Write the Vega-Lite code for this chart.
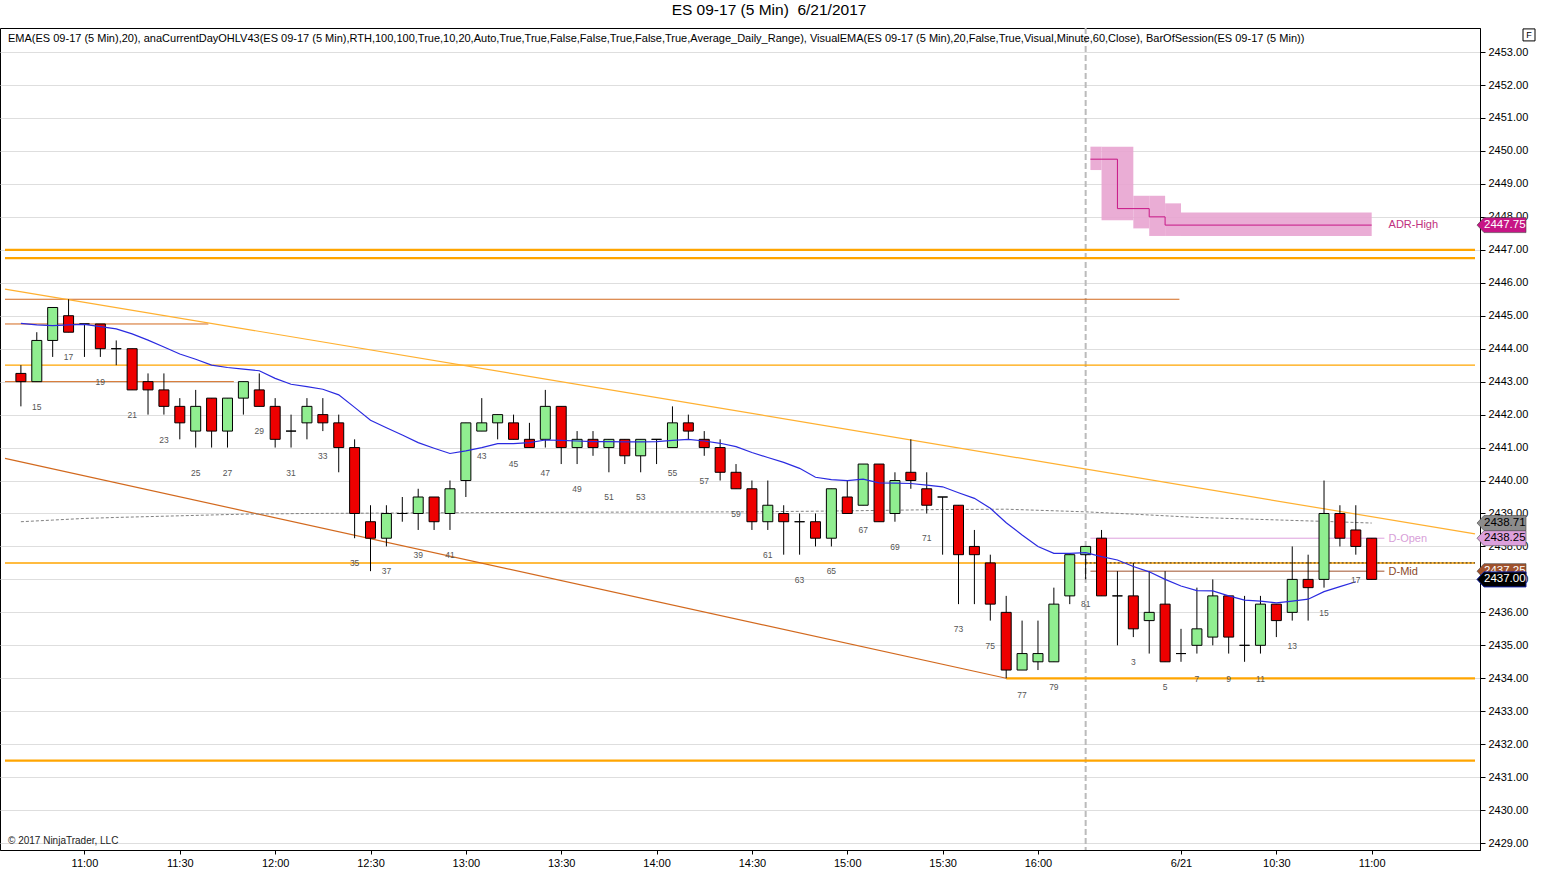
{
  "$schema": "https://vega.github.io/schema/vega-lite/v6.json",
  "width": 1480,
  "height": 822,
  "autosize": "none",
  "padding": {"left": 0, "top": 28, "right": 62, "bottom": 43},
  "background": "white",
  "title": {"text": "ES 09-17 (5 Min)\u00a0\u00a06/21/2017", "fontSize": 15.5, "fontWeight": "normal", "font": "Liberation Sans", "color": "black", "anchor": "middle", "dx": 29, "offset": 8},
  "config": {"view": {"stroke": "black", "strokeWidth": 1}, "axisY": {"tickCount": 25, "labelOverlap": false}},
  "datasets": {
    "one": [{}],
    "bars": [
      {"g":14,"n":14,"open":2443.25,"high":2443.5,"low":2442.25,"close":2443.0},
      {"g":15,"n":15,"open":2443.0,"high":2444.5,"low":2443.0,"close":2444.25},
      {"g":16,"n":16,"open":2444.25,"high":2445.25,"low":2443.75,"close":2445.25},
      {"g":17,"n":17,"open":2445.0,"high":2445.5,"low":2444.5,"close":2444.5},
      {"g":18,"n":18,"open":2444.75,"high":2444.75,"low":2443.75,"close":2444.75},
      {"g":19,"n":19,"open":2444.75,"high":2444.75,"low":2443.75,"close":2444.0},
      {"g":20,"n":20,"open":2444.0,"high":2444.25,"low":2443.5,"close":2444.0},
      {"g":21,"n":21,"open":2444.0,"high":2444.0,"low":2442.75,"close":2442.75},
      {"g":22,"n":22,"open":2443.0,"high":2443.25,"low":2442.0,"close":2442.75},
      {"g":23,"n":23,"open":2442.75,"high":2443.25,"low":2442.0,"close":2442.25},
      {"g":24,"n":24,"open":2442.25,"high":2442.5,"low":2441.25,"close":2441.75},
      {"g":25,"n":25,"open":2441.5,"high":2442.75,"low":2441.0,"close":2442.25},
      {"g":26,"n":26,"open":2442.5,"high":2442.5,"low":2441.0,"close":2441.5},
      {"g":27,"n":27,"open":2441.5,"high":2442.5,"low":2441.0,"close":2442.5},
      {"g":28,"n":28,"open":2442.5,"high":2443.0,"low":2442.0,"close":2443.0},
      {"g":29,"n":29,"open":2442.75,"high":2443.25,"low":2442.25,"close":2442.25},
      {"g":30,"n":30,"open":2442.25,"high":2442.5,"low":2441.0,"close":2441.25},
      {"g":31,"n":31,"open":2441.5,"high":2442.0,"low":2441.0,"close":2441.5},
      {"g":32,"n":32,"open":2441.75,"high":2442.5,"low":2441.25,"close":2442.25},
      {"g":33,"n":33,"open":2442.0,"high":2442.5,"low":2441.5,"close":2441.75},
      {"g":34,"n":34,"open":2441.75,"high":2442.0,"low":2440.25,"close":2441.0},
      {"g":35,"n":35,"open":2441.0,"high":2441.25,"low":2438.25,"close":2439.0},
      {"g":36,"n":36,"open":2438.75,"high":2439.25,"low":2437.25,"close":2438.25},
      {"g":37,"n":37,"open":2438.25,"high":2439.25,"low":2438.0,"close":2439.0},
      {"g":38,"n":38,"open":2439.0,"high":2439.5,"low":2438.75,"close":2439.0},
      {"g":39,"n":39,"open":2439.0,"high":2439.75,"low":2438.5,"close":2439.5},
      {"g":40,"n":40,"open":2439.5,"high":2439.5,"low":2438.5,"close":2438.75},
      {"g":41,"n":41,"open":2439.0,"high":2440.0,"low":2438.5,"close":2439.75},
      {"g":42,"n":42,"open":2440.0,"high":2441.75,"low":2439.5,"close":2441.75},
      {"g":43,"n":43,"open":2441.5,"high":2442.5,"low":2441.5,"close":2441.75},
      {"g":44,"n":44,"open":2441.75,"high":2442.0,"low":2441.25,"close":2442.0},
      {"g":45,"n":45,"open":2441.75,"high":2442.0,"low":2441.25,"close":2441.25},
      {"g":46,"n":46,"open":2441.25,"high":2441.75,"low":2441.0,"close":2441.0},
      {"g":47,"n":47,"open":2441.25,"high":2442.75,"low":2441.0,"close":2442.25},
      {"g":48,"n":48,"open":2442.25,"high":2442.25,"low":2440.5,"close":2441.0},
      {"g":49,"n":49,"open":2441.0,"high":2441.5,"low":2440.5,"close":2441.25},
      {"g":50,"n":50,"open":2441.25,"high":2441.5,"low":2440.75,"close":2441.0},
      {"g":51,"n":51,"open":2441.0,"high":2441.25,"low":2440.25,"close":2441.25},
      {"g":52,"n":52,"open":2441.25,"high":2441.25,"low":2440.5,"close":2440.75},
      {"g":53,"n":53,"open":2440.75,"high":2441.25,"low":2440.25,"close":2441.25},
      {"g":54,"n":54,"open":2441.25,"high":2441.25,"low":2440.5,"close":2441.25},
      {"g":55,"n":55,"open":2441.0,"high":2442.25,"low":2441.0,"close":2441.75},
      {"g":56,"n":56,"open":2441.75,"high":2442.0,"low":2441.25,"close":2441.5},
      {"g":57,"n":57,"open":2441.25,"high":2441.5,"low":2440.75,"close":2441.0},
      {"g":58,"n":58,"open":2441.0,"high":2441.25,"low":2440.0,"close":2440.25},
      {"g":59,"n":59,"open":2440.25,"high":2440.5,"low":2439.75,"close":2439.75},
      {"g":60,"n":60,"open":2439.75,"high":2440.0,"low":2438.5,"close":2438.75},
      {"g":61,"n":61,"open":2438.75,"high":2440.0,"low":2438.5,"close":2439.25},
      {"g":62,"n":62,"open":2439.0,"high":2439.25,"low":2437.75,"close":2438.75},
      {"g":63,"n":63,"open":2438.75,"high":2439.0,"low":2437.75,"close":2438.75},
      {"g":64,"n":64,"open":2438.75,"high":2439.0,"low":2438.0,"close":2438.25},
      {"g":65,"n":65,"open":2438.25,"high":2439.75,"low":2438.0,"close":2439.75},
      {"g":66,"n":66,"open":2439.5,"high":2440.0,"low":2439.0,"close":2439.0},
      {"g":67,"n":67,"open":2439.25,"high":2440.5,"low":2439.25,"close":2440.5},
      {"g":68,"n":68,"open":2440.5,"high":2440.5,"low":2438.75,"close":2438.75},
      {"g":69,"n":69,"open":2439.0,"high":2440.25,"low":2438.75,"close":2440.0},
      {"g":70,"n":70,"open":2440.25,"high":2441.25,"low":2439.75,"close":2440.0},
      {"g":71,"n":71,"open":2439.75,"high":2440.25,"low":2439.0,"close":2439.25},
      {"g":72,"n":72,"open":2439.5,"high":2439.5,"low":2437.75,"close":2439.5},
      {"g":73,"n":73,"open":2439.25,"high":2439.25,"low":2436.25,"close":2437.75},
      {"g":74,"n":74,"open":2438.0,"high":2438.5,"low":2436.25,"close":2437.75},
      {"g":75,"n":75,"open":2437.5,"high":2437.75,"low":2435.75,"close":2436.25},
      {"g":76,"n":76,"open":2436.0,"high":2436.5,"low":2434.0,"close":2434.25},
      {"g":77,"n":77,"open":2434.25,"high":2435.75,"low":2434.25,"close":2434.75},
      {"g":78,"n":78,"open":2434.5,"high":2435.75,"low":2434.25,"close":2434.75},
      {"g":79,"n":79,"open":2434.5,"high":2436.75,"low":2434.5,"close":2436.25},
      {"g":80,"n":80,"open":2436.5,"high":2437.75,"low":2436.25,"close":2437.75},
      {"g":81,"n":81,"open":2437.75,"high":2438.0,"low":2437.0,"close":2438.0},
      {"g":82,"n":1,"open":2438.25,"high":2438.5,"low":2436.5,"close":2436.5},
      {"g":83,"n":2,"open":2436.5,"high":2437.25,"low":2435.0,"close":2436.5},
      {"g":84,"n":3,"open":2436.5,"high":2437.5,"low":2435.25,"close":2435.5},
      {"g":85,"n":4,"open":2435.75,"high":2437.25,"low":2434.75,"close":2436.0},
      {"g":86,"n":5,"open":2436.25,"high":2437.25,"low":2434.5,"close":2434.5},
      {"g":87,"n":6,"open":2434.75,"high":2435.5,"low":2434.5,"close":2434.75},
      {"g":88,"n":7,"open":2435.0,"high":2436.75,"low":2434.75,"close":2435.5},
      {"g":89,"n":8,"open":2435.25,"high":2437.0,"low":2435.0,"close":2436.5},
      {"g":90,"n":9,"open":2436.5,"high":2436.5,"low":2434.75,"close":2435.25},
      {"g":91,"n":10,"open":2435.0,"high":2436.5,"low":2434.5,"close":2435.0},
      {"g":92,"n":11,"open":2435.0,"high":2436.5,"low":2434.75,"close":2436.25},
      {"g":93,"n":12,"open":2436.25,"high":2436.25,"low":2435.25,"close":2435.75},
      {"g":94,"n":13,"open":2436.0,"high":2438.0,"low":2435.75,"close":2437.0},
      {"g":95,"n":14,"open":2437.0,"high":2437.75,"low":2435.75,"close":2436.75},
      {"g":96,"n":15,"open":2437.0,"high":2440.0,"low":2436.75,"close":2439.0},
      {"g":97,"n":16,"open":2439.0,"high":2439.25,"low":2438.0,"close":2438.25},
      {"g":98,"n":17,"open":2438.5,"high":2439.25,"low":2437.75,"close":2438.0},
      {"g":99,"n":18,"open":2438.25,"high":2438.25,"low":2437.0,"close":2437.0}
    ],
    "ema": [
      {"g":14,"v":2444.77},{"g":15,"v":2444.72},{"g":16,"v":2444.70},{"g":17,"v":2444.72},{"g":18,"v":2444.74},
      {"g":19,"v":2444.67},{"g":20,"v":2444.60},{"g":21,"v":2444.45},{"g":22,"v":2444.26},{"g":23,"v":2444.05},
      {"g":24,"v":2443.84},{"g":25,"v":2443.68},{"g":26,"v":2443.50},{"g":27,"v":2443.43},{"g":28,"v":2443.38},
      {"g":29,"v":2443.33},{"g":30,"v":2443.10},{"g":31,"v":2442.92},{"g":32,"v":2442.85},{"g":33,"v":2442.77},
      {"g":34,"v":2442.60},{"g":35,"v":2442.22},{"g":36,"v":2441.83},{"g":37,"v":2441.60},{"g":38,"v":2441.38},
      {"g":39,"v":2441.15},{"g":40,"v":2440.98},{"g":41,"v":2440.82},{"g":42,"v":2440.90},{"g":43,"v":2441.00},
      {"g":44,"v":2441.12},{"g":45,"v":2441.12},{"g":46,"v":2441.15},{"g":47,"v":2441.23},{"g":48,"v":2441.22},
      {"g":49,"v":2441.20},{"g":50,"v":2441.18},{"g":51,"v":2441.18},{"g":52,"v":2441.17},{"g":53,"v":2441.17},
      {"g":54,"v":2441.18},{"g":55,"v":2441.22},{"g":56,"v":2441.25},{"g":57,"v":2441.20},{"g":58,"v":2441.13},
      {"g":59,"v":2441.03},{"g":60,"v":2440.85},{"g":61,"v":2440.70},{"g":62,"v":2440.55},{"g":63,"v":2440.37},
      {"g":64,"v":2440.10},{"g":65,"v":2440.03},{"g":66,"v":2440.00},{"g":67,"v":2440.04},{"g":68,"v":2439.93},
      {"g":69,"v":2439.92},{"g":70,"v":2439.91},{"g":71,"v":2439.86},{"g":72,"v":2439.81},{"g":73,"v":2439.63},
      {"g":74,"v":2439.46},{"g":75,"v":2439.16},{"g":76,"v":2438.72},{"g":77,"v":2438.35},{"g":78,"v":2438.00},
      {"g":79,"v":2437.79},{"g":80,"v":2437.79},{"g":81,"v":2437.81},{"g":82,"v":2437.69},{"g":83,"v":2437.59},
      {"g":84,"v":2437.39},{"g":85,"v":2437.23},{"g":86,"v":2437.00},{"g":87,"v":2436.80},{"g":88,"v":2436.66},
      {"g":89,"v":2436.65},{"g":90,"v":2436.50},{"g":91,"v":2436.37},{"g":92,"v":2436.34},{"g":93,"v":2436.29},
      {"g":94,"v":2436.34},{"g":95,"v":2436.40},{"g":96,"v":2436.63},{"g":97,"v":2436.78},{"g":98,"v":2436.93}
    ],
    "ema60": [
      {"g":14,"v":2438.75},{"g":16,"v":2438.80},{"g":18,"v":2438.85},{"g":20,"v":2438.88},{"g":24,"v":2438.93},
      {"g":28,"v":2438.98},{"g":32,"v":2439.00},{"g":40,"v":2439.02},{"g":50,"v":2439.04},{"g":60,"v":2439.05},
      {"g":66,"v":2439.08},{"g":72,"v":2439.12},{"g":76,"v":2439.13},{"g":81,"v":2439.05},{"g":84,"v":2438.98},
      {"g":88,"v":2438.88},{"g":92,"v":2438.82},{"g":96,"v":2438.76},{"g":99,"v":2438.71}
    ],
    "adrBand": [
      {"g1":81.3,"g2":82,"lo":2449.42,"hi":2450.13},
      {"g1":82,"g2":84,"lo":2447.9,"hi":2450.13},
      {"g1":84,"g2":85,"lo":2447.65,"hi":2448.64},
      {"g1":85,"g2":86,"lo":2447.42,"hi":2448.64},
      {"g1":86,"g2":87,"lo":2447.42,"hi":2448.41},
      {"g1":87,"g2":99,"lo":2447.42,"hi":2448.13}
    ],
    "adrLine": [
      {"g":81.3,"v":2449.75},{"g":83,"v":2448.25},{"g":85,"v":2448.0},{"g":86,"v":2447.75},{"g":99,"v":2447.75}
    ],
    "levelsThick": [
      {"v":2447.0,"g1":13,"g2":105.5},
      {"v":2446.75,"g1":13,"g2":105.5},
      {"v":2434.0,"g1":76,"g2":105.5},
      {"v":2431.5,"g1":13,"g2":105.5}
    ],
    "levelsOrange": [
      {"v":2443.5,"g1":13,"g2":105.5},
      {"v":2437.5,"g1":13,"g2":105.5}
    ],
    "levelsBrown": [
      {"v":2445.5,"g1":13,"g2":86.9},
      {"v":2444.75,"g1":13,"g2":25.8},
      {"v":2443.0,"g1":13,"g2":27.4}
    ],
    "dOpen": [{"v":2438.25,"g1":81.3,"g2":99.8}],
    "dMid": [{"v":2437.25,"g1":81.3,"g2":99.8}],
    "dotted": [{"v":2437.5,"g1":81,"g2":105.5}],
    "trendUpper": [{"g":13,"v":2445.81},{"g":105.5,"v":2438.38}],
    "trendLower": [{"g":13,"v":2440.67},{"g":76,"v":2434.0}],
    "tags": [
      {"name":"ADR-High","v":2447.75,"label":"2447.75"},
      {"name":"VisualEMA","v":2438.71,"label":"2438.71"},
      {"name":"D-Open","v":2438.25,"label":"2438.25"},
      {"name":"D-Mid","v":2437.25,"label":"2437.25"},
      {"name":"Last","v":2437.0,"label":"2437.00"}
    ]
  },
  "layer": [
    {
      "data": {"name": "adrBand"},
      "mark": {"type": "rect", "fill": "#E8A4D0", "opacity": 0.9},
      "encoding": {
        "x": {"field": "g1", "type": "quantitative", "scale": {"domain": [13, 105.5], "nice": false, "zero": false},
          "axis": {"title": null, "values": [18,24,30,36,42,48,54,60,66,72,78,87,93,99],
            "labelExpr": "['11:00','11:30','12:00','12:30','13:00','13:30','14:00','14:30','15:00','15:30','16:00','6/21','10:30','11:00'][indexof([18,24,30,36,42,48,54,60,66,72,78,87,93,99], datum.value)]",
            "grid": false, "domainColor": "black", "tickColor": "black", "tickSize": 4, "labelFont": "Liberation Sans Narrow, Arial Narrow, Liberation Sans", "labelFontSize": 11, "labelColor": "black", "labelPadding": 3, "labelOverlap": false}},
        "x2": {"field": "g2"},
        "y": {"field": "lo", "type": "quantitative", "scale": {"domain": [2428.79, 2453.73], "nice": false, "zero": false},
          "axis": {"title": null, "orient": "right", "values": [2429,2430,2431,2432,2433,2434,2435,2436,2437,2438,2439,2440,2441,2442,2443,2444,2445,2446,2447,2448,2449,2450,2451,2452,2453],
            "tickCount": 25, "format": ".2f", "grid": true, "gridColor": "#DEDEDE", "domainColor": "black", "tickColor": "black", "tickSize": 5, "labelFont": "Liberation Sans Narrow, Arial Narrow, Liberation Sans", "labelFontSize": 11, "labelColor": "black", "labelPadding": 3, "labelOverlap": false}},
        "y2": {"field": "hi"}
      }
    },
    {
      "data": {"name": "one"},
      "mark": {"type": "rule", "color": "#BBBBBB", "strokeWidth": 2, "strokeDash": [6, 3]},
      "encoding": {"x": {"datum": 81, "type": "quantitative"}}
    },
    {
      "data": {"name": "levelsThick"},
      "mark": {"type": "rule", "color": "#FFA500", "strokeWidth": 2.2},
      "encoding": {"x": {"field": "g1", "type": "quantitative"}, "x2": {"field": "g2"}, "y": {"field": "v", "type": "quantitative"}}
    },
    {
      "data": {"name": "levelsOrange"},
      "mark": {"type": "rule", "color": "#FFA500", "strokeWidth": 1.4},
      "encoding": {"x": {"field": "g1", "type": "quantitative"}, "x2": {"field": "g2"}, "y": {"field": "v", "type": "quantitative"}}
    },
    {
      "data": {"name": "levelsBrown"},
      "mark": {"type": "rule", "color": "#D2691E", "strokeWidth": 1},
      "encoding": {"x": {"field": "g1", "type": "quantitative"}, "x2": {"field": "g2"}, "y": {"field": "v", "type": "quantitative"}}
    },
    {
      "data": {"name": "dOpen"},
      "mark": {"type": "rule", "color": "#DDA0DD", "strokeWidth": 1},
      "encoding": {"x": {"field": "g1", "type": "quantitative"}, "x2": {"field": "g2"}, "y": {"field": "v", "type": "quantitative"}}
    },
    {
      "data": {"name": "dMid"},
      "mark": {"type": "rule", "color": "#A0522D", "strokeWidth": 1},
      "encoding": {"x": {"field": "g1", "type": "quantitative"}, "x2": {"field": "g2"}, "y": {"field": "v", "type": "quantitative"}}
    },
    {
      "data": {"name": "dotted"},
      "mark": {"type": "rule", "color": "#222222", "strokeWidth": 1, "strokeDash": [2, 2]},
      "encoding": {"x": {"field": "g1", "type": "quantitative"}, "x2": {"field": "g2"}, "y": {"field": "v", "type": "quantitative"}}
    },
    {
      "data": {"name": "trendUpper"},
      "mark": {"type": "line", "color": "#FFB030", "strokeWidth": 1.2},
      "encoding": {"x": {"field": "g", "type": "quantitative"}, "y": {"field": "v", "type": "quantitative"}}
    },
    {
      "data": {"name": "trendLower"},
      "mark": {"type": "line", "color": "#D2691E", "strokeWidth": 1.2},
      "encoding": {"x": {"field": "g", "type": "quantitative"}, "y": {"field": "v", "type": "quantitative"}}
    },
    {
      "data": {"name": "adrLine"},
      "mark": {"type": "line", "color": "#C71585", "strokeWidth": 1, "interpolate": "step-after"},
      "encoding": {"x": {"field": "g", "type": "quantitative"}, "y": {"field": "v", "type": "quantitative"}}
    },
    {
      "data": {"name": "ema60"},
      "mark": {"type": "line", "color": "#808080", "strokeWidth": 1, "strokeDash": [3, 2]},
      "encoding": {"x": {"field": "g", "type": "quantitative"}, "y": {"field": "v", "type": "quantitative"}}
    },
    {
      "data": {"name": "bars"},
      "mark": {"type": "rule", "color": "black", "strokeWidth": 1},
      "encoding": {"x": {"field": "g", "type": "quantitative"}, "y": {"field": "low", "type": "quantitative"}, "y2": {"field": "high"}}
    },
    {
      "data": {"name": "bars"},
      "mark": {"type": "bar", "width": 10, "stroke": "black", "strokeWidth": 1, "orient": "vertical"},
      "encoding": {
        "x": {"field": "g", "type": "quantitative"},
        "y": {"field": "open", "type": "quantitative"},
        "y2": {"field": "close"},
        "fill": {"condition": {"test": "datum.close > datum.open", "value": "#90EE90"}, "value": "#EE0000"}
      }
    },
    {
      "data": {"name": "ema"},
      "mark": {"type": "line", "color": "#2A2AE0", "strokeWidth": 1.2},
      "encoding": {"x": {"field": "g", "type": "quantitative"}, "y": {"field": "v", "type": "quantitative"}}
    },
    {
      "data": {"name": "bars"},
      "transform": [{"filter": "datum.n % 2 == 1 && datum.g != 82"}],
      "mark": {"type": "text", "fontSize": 8.5, "color": "#555555", "dy": 25, "baseline": "middle", "font": "Liberation Sans"},
      "encoding": {"x": {"field": "g", "type": "quantitative"}, "y": {"field": "low", "type": "quantitative"}, "text": {"field": "n"}}
    },
    {
      "data": {"name": "one"},
      "mark": {"type": "text", "align": "left", "baseline": "middle", "fontSize": 11, "font": "Liberation Sans", "color": "#C0307E", "text": "ADR-High"},
      "encoding": {"x": {"datum": 100.06, "type": "quantitative"}, "y": {"datum": 2447.75, "type": "quantitative"}}
    },
    {
      "data": {"name": "one"},
      "mark": {"type": "text", "align": "left", "baseline": "middle", "fontSize": 11, "font": "Liberation Sans", "color": "#D8A0D8", "text": "D-Open"},
      "encoding": {"x": {"datum": 100.06, "type": "quantitative"}, "y": {"datum": 2438.22, "type": "quantitative"}}
    },
    {
      "data": {"name": "one"},
      "mark": {"type": "text", "align": "left", "baseline": "middle", "fontSize": 11, "font": "Liberation Sans", "color": "#8B4A2B", "text": "D-Mid"},
      "encoding": {"x": {"datum": 100.06, "type": "quantitative"}, "y": {"datum": 2437.22, "type": "quantitative"}}
    },
    {
      "data": {"name": "tags"},
      "transform": [{"filter": "datum.name != 'Last'"}],
      "mark": {"type": "point", "shape": "M0.08,0L0.36,-0.3L2.04,-0.3L2.04,0.3L0.36,0.3Z", "size": 2500, "filled": true, "opacity": 1, "stroke": "#444444", "strokeWidth": 0.6},
      "encoding": {
        "x": {"datum": 105.5, "type": "quantitative"},
        "y": {"field": "v", "type": "quantitative"},
        "fill": {"field": "name", "type": "nominal", "scale": {"domain": ["ADR-High","VisualEMA","D-Open","D-Mid","Last"], "range": ["#C71585","#8C8C8C","#DDA0DD","#A0522D","#000000"]}, "legend": null}
      }
    },
    {
      "data": {"name": "tags"},
      "transform": [{"filter": "datum.name != 'Last'"}],
      "mark": {"type": "text", "align": "left", "baseline": "middle", "dx": 9, "fontSize": 11.5, "font": "Liberation Sans"},
      "encoding": {
        "x": {"datum": 105.5, "type": "quantitative"},
        "y": {"field": "v", "type": "quantitative"},
        "text": {"field": "label"},
        "color": {"field": "name", "type": "nominal", "scale": {"domain": ["ADR-High","VisualEMA","D-Open","D-Mid","Last"], "range": ["white","black","black","white","white"]}, "legend": null}
      }
    },
    {
      "data": {"name": "tags"},
      "transform": [{"filter": "datum.name == 'Last'"}],
      "mark": {"type": "point", "shape": "M0.08,0L0.36,-0.3L2.04,-0.3L2.04,0.3L0.36,0.3Z", "size": 2500, "filled": true, "opacity": 1, "stroke": "#1020A0", "strokeWidth": 1},
      "encoding": {
        "x": {"datum": 105.5, "type": "quantitative"},
        "y": {"field": "v", "type": "quantitative"},
        "fill": {"field": "name", "type": "nominal"}
      }
    },
    {
      "data": {"name": "tags"},
      "transform": [{"filter": "datum.name == 'Last'"}],
      "mark": {"type": "text", "align": "left", "baseline": "middle", "dx": 9, "fontSize": 11.5, "font": "Liberation Sans"},
      "encoding": {
        "x": {"datum": 105.5, "type": "quantitative"},
        "y": {"field": "v", "type": "quantitative"},
        "text": {"field": "label"},
        "color": {"field": "name", "type": "nominal"}
      }
    },
    {
      "data": {"name": "one"},
      "mark": {"type": "text", "align": "left", "baseline": "middle", "dx": 3, "fontSize": 11, "font": "Liberation Sans Narrow, Arial Narrow, Liberation Sans", "color": "black",
        "text": "EMA(ES 09-17 (5 Min),20), anaCurrentDayOHLV43(ES 09-17 (5 Min),RTH,100,100,True,10,20,Auto,True,True,False,False,True,False,True,Average_Daily_Range), VisualEMA(ES 09-17 (5 Min),20,False,True,Visual,Minute,60,Close), BarOfSession(ES 09-17 (5 Min))"},
      "encoding": {"x": {"datum": 13, "type": "quantitative"}, "y": {"datum": 2453.39, "type": "quantitative"}}
    },
    {
      "data": {"name": "one"},
      "mark": {"type": "text", "align": "left", "baseline": "middle", "dx": 3, "fontSize": 10, "font": "Liberation Sans Narrow, Arial Narrow, Liberation Sans", "color": "#222222", "text": "© 2017 NinjaTrader, LLC"},
      "encoding": {"x": {"datum": 13, "type": "quantitative"}, "y": {"datum": 2429.06, "type": "quantitative"}}
    },
    {
      "data": {"name": "one"},
      "mark": {"type": "point", "shape": "square", "size": 144, "filled": false, "color": "black", "strokeWidth": 1, "xOffset": 54, "opacity": 1},
      "encoding": {"x": {"datum": 105.5, "type": "quantitative"}, "y": {"datum": 2453.52, "type": "quantitative"}}
    },
    {
      "data": {"name": "one"},
      "mark": {"type": "text", "align": "center", "baseline": "middle", "dx": 54, "fontSize": 9, "font": "Liberation Sans", "color": "black", "text": "F"},
      "encoding": {"x": {"datum": 105.5, "type": "quantitative"}, "y": {"datum": 2453.52, "type": "quantitative"}}
    }
  ]
}
